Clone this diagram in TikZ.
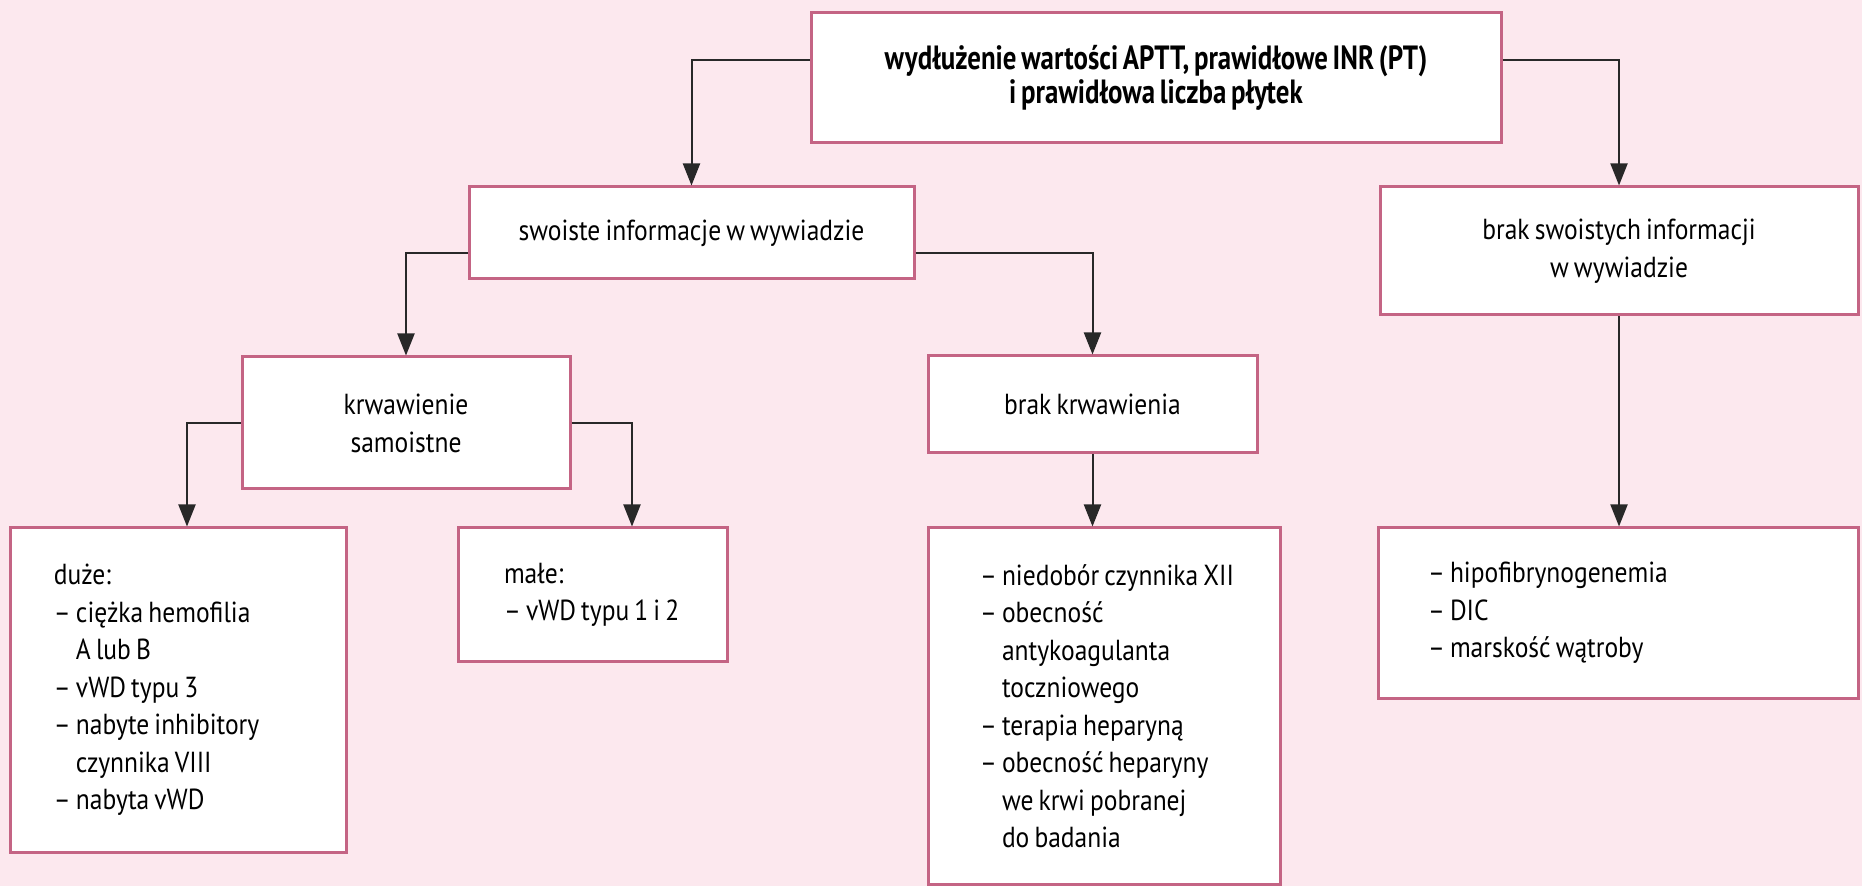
\documentclass[tikz,border=0pt]{standalone}
\usepackage{fontspec}
\setmainfont{PT Sans}[FakeStretch=0.88, WordSpace=0.75]
\newfontfamily\headfont{PT Sans}[FakeStretch=0.8, WordSpace=0.7]
\usetikzlibrary{arrows.meta}

\definecolor{pagebg}{RGB}{252,232,238}
\definecolor{boxline}{RGB}{196,100,132}
\definecolor{wire}{RGB}{40,40,40}

% list entries: a dash with hanging indent, and a continuation line;
% the font's own interword space is kept inside each line
\newcommand\dashitem[1]{\mbox{\spaceskip=0pt\relax\makebox[11pt][l]{–}#1}}
\newcommand\dashcont[1]{\mbox{\spaceskip=0pt\relax\hspace*{11pt}#1}}

\begin{document}
\begin{tikzpicture}[x=0.5pt,y=-0.5pt,
  box/.style={draw=boxline, line width=1.5pt, fill=white, rectangle,
    inner sep=0pt, align=center, font=\fontsize{14.5}{19}\selectfont},
  listbox/.style={box, align=left, font=\fontsize{14.5}{18.75}\selectfont},
  conn/.style={draw=wire, line width=1pt, -{Triangle[length=11pt,width=8.5pt]}},
]
\useasboundingbox (0,0) rectangle (1862,886);
\fill[pagebg] (0,0) rectangle (1862,886);

% boxes
\node[box, minimum width=345pt, minimum height=65pt,
  font=\headfont\fontsize{16.8}{17}\selectfont\bfseries] (top) at (1156,78)
  {wydłużenie wartości APTT, prawidłowe INR (PT)\\i prawidłowa liczba płytek};
\node[box, minimum width=222.5pt, minimum height=46pt] (sw) at (691.5,233)
  {swoiste informacje w wywiadzie};
\node[box, minimum width=239pt, minimum height=64pt] (bs) at (1619,251)
  {brak swoistych informacji\\w wywiadzie};
\node[box, minimum width=164pt, minimum height=66pt] (kr) at (406,423)
  {krwawienie\\samoistne};
\node[box, minimum width=164.5pt, minimum height=48.5pt] (bk) at (1092.5,404.5)
  {brak krwawienia};

\node[listbox, minimum width=168pt, minimum height=162pt,
  inner xsep=22pt, text width=124pt] (du) at (178,690)
  {duże:\\\dashitem{ciężka hemofilia}\\\dashcont{A lub B}\\\dashitem{vWD typu 3}\\
   \dashitem{nabyte inhibitory}\\\dashcont{czynnika VIII}\\\dashitem{nabyta vWD}};
\node[listbox, minimum width=134.5pt, minimum height=67pt,
  inner xsep=23pt, text width=88.5pt] (ma) at (592.5,595)
  {małe:\\\dashitem{vWD typu 1 i 2}};
\node[listbox, minimum width=176pt, minimum height=178pt,
  inner xsep=26pt, text width=124pt] (ni) at (1104,706)
  {\dashitem{niedobór czynnika XII}\\\dashitem{obecność}\\\dashcont{antykoagulanta}\\
   \dashcont{toczniowego}\\\dashitem{terapia heparyną}\\\dashitem{obecność heparyny}\\
   \dashcont{we krwi pobranej}\\\dashcont{do badania}};
\node[listbox, minimum width=240pt, minimum height=85pt,
  inner xsep=25pt, text width=190pt] (hi) at (1618,613)
  {\dashitem{hipofibrynogenemia}\\\dashitem{DIC}\\\dashitem{marskość wątroby}};

% connector levels and drop lines
\coordinate (yA) at (0,60);
\coordinate (yB) at (0,253);
\coordinate (xD) at (187,0);
\coordinate (xM) at (632,0);

\draw[conn] (top.west |- yA) -| (sw.north);
\draw[conn] (top.east |- yA) -| (bs.north);
\draw[conn] (sw.west |- yB) -| (kr.north);
\draw[conn] (sw.east |- yB) -| (bk.north);
\draw[conn] (kr.west) -| (du.north -| xD);
\draw[conn] (kr.east) -| (ma.north -| xM);
\draw[conn] (bk.south) -- (bk.south |- ni.north);
\draw[conn] (bs.south) -- (bs.south |- hi.north);
\end{tikzpicture}
\end{document}
